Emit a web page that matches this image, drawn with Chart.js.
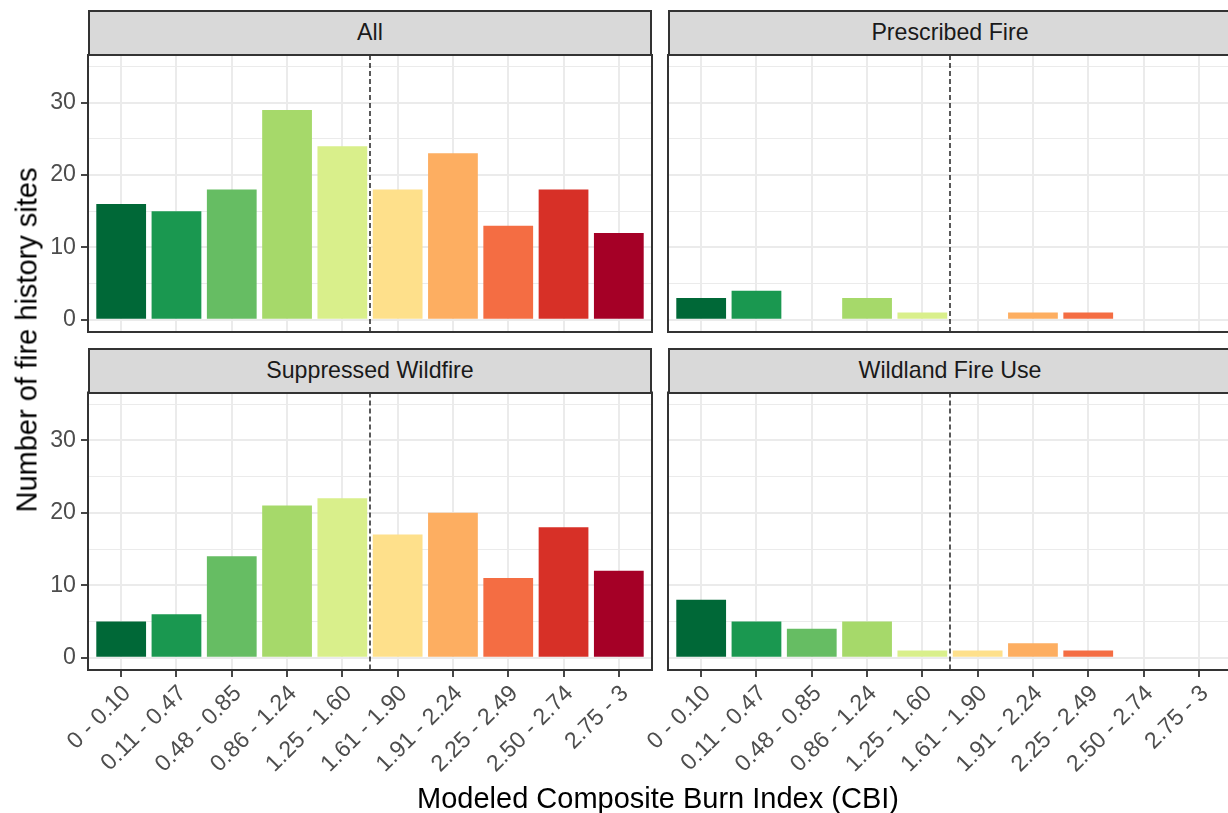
<!DOCTYPE html>
<html>
<head>
<meta charset="utf-8">
<script src="https://cdn.jsdelivr.net/npm/chart.js@4.4.1/dist/chart.umd.min.js"></script>
<style>
  html, body { margin: 0; padding: 0; background: #ffffff; overflow: hidden; width: 1228px; height: 813px; }
  #wrap { position: relative; width: 1228px; height: 813px; overflow: hidden;
          font-family: "Liberation Sans", Arial, Helvetica, sans-serif; }
  #wrap canvas { position: absolute; left: 0; top: 0; }
  .strip { position: absolute; box-sizing: border-box; background: #D9D9D9; border: 2px solid #333333;
           color: #1A1A1A; font-size: 23.2px; display: flex; align-items: center; justify-content: center; }
  .axis-title { position: absolute; color: #000000; font-size: 29px; white-space: nowrap; }
</style>
</head>
<body>
<div id="wrap"></div>
<script>
// CBI classes (x categories)
const categories = ['0 - 0.10', '0.11 - 0.47', '0.48 - 0.85', '0.86 - 1.24', '1.25 - 1.60',
                    '1.61 - 1.90', '1.91 - 2.24', '2.25 - 2.49', '2.50 - 2.74', '2.75 - 3'];

// Number of fire history sites per CBI class, by fire management type
const allSites           = [16, 15, 18, 29, 24, 18, 23, 13, 18, 12];
const prescribedFire     = [ 3,  4,  0,  3,  1,  0,  1,  1,  0,  0];
const suppressedWildfire = [ 5,  6, 14, 21, 22, 17, 20, 11, 18, 12];
const wildlandFireUse    = [ 8,  5,  4,  5,  1,  1,  2,  1,  0,  0];

const panelTitles = ['All', 'Prescribed Fire', 'Suppressed Wildfire', 'Wildland Fire Use'];

// RdYlGn, green (low severity) to red (high severity)
const barColors = ['#006837', '#1A9850', '#66BD63', '#A6D96A', '#D9EF8B',
                   '#FEE08B', '#FDAE61', '#F46D43', '#D73027', '#A50026'];

const yTickValues  = [0, 10, 20, 30];
const yMinorValues = [5, 15, 25, 35];
const yRange = [-1.7, 36.6];

// boundary between the 1.25 - 1.60 and 1.61 - 1.90 classes
const severityBreak = 4.5;

const axisTitleX = 'Modeled Composite Burn Index (CBI)';
const axisTitleY = 'Number of fire history sites';

// ---- layout of the 2 x 2 facet grid ----
const W = 1240, H = 813;
const FONT = '"Liberation Sans", Arial, Helvetica, sans-serif';
const TICK_SIZE = 23.2;
const COLS = [{ l: 88, r: 652 }, { l: 668, r: 1232 }];
const ROWS = [{ s: 9.5, t: 55, b: 332 }, { s: 348, t: 392.5, b: 670 }];
const Y_AXIS_W = 40;

const seriesList = [allSites, prescribedFire, suppressedWildfire, wildlandFireUse];
const wrap = document.getElementById('wrap');

const panelDecor = {
  id: 'panelDecor',
  afterDatasetsDraw(chart) {
    const { ctx, chartArea: a, scales } = chart;
    const x = scales.x.getPixelForValue(severityBreak);
    ctx.save();
    ctx.beginPath();
    ctx.rect(a.left, a.top, a.right - a.left, a.bottom - a.top);
    ctx.clip();
    ctx.strokeStyle = '#000000';
    ctx.lineWidth = 1.3;
    ctx.setLineDash([5, 3]);
    ctx.beginPath();
    ctx.moveTo(x, a.top);
    ctx.lineTo(x, a.bottom);
    ctx.stroke();
    ctx.restore();

    ctx.save();
    ctx.strokeStyle = '#333333';
    ctx.lineWidth = 2;
    ctx.strokeRect(a.left, a.top, a.right - a.left, a.bottom - a.top);
    ctx.restore();
  }
};

seriesList.forEach((values, p) => {
  const col = COLS[p % 2], row = ROWS[Math.floor(p / 2)];
  const showY = (p % 2) === 0;
  const showX = Math.floor(p / 2) === 1;

  // strip label
  const strip = document.createElement('div');
  strip.className = 'strip';
  strip.style.left = col.l + 'px';
  strip.style.top = row.s + 'px';
  strip.style.width = (col.r - col.l) + 'px';
  strip.style.height = (row.t - row.s + 1) + 'px';
  strip.textContent = panelTitles[p];

  const canvas = document.createElement('canvas');
  canvas.width = W; canvas.height = H;
  canvas.style.width = W + 'px'; canvas.style.height = H + 'px';
  wrap.appendChild(canvas);
  wrap.appendChild(strip);

  new Chart(canvas.getContext('2d'), {
    type: 'bar',
    data: {
      datasets: [{
        data: values.map((v, i) => ({ x: i, y: v })),
        backgroundColor: barColors,
        borderWidth: 0,
        barPercentage: 0.9,
        categoryPercentage: 1.0
      }]
    },
    options: {
      responsive: false,
      animation: false,
      events: [],
      layout: {
        autoPadding: false,
        padding: {
          left: showY ? col.l - Y_AXIS_W : col.l,
          right: W - col.r,
          top: row.t,
          bottom: showX ? 0 : H - row.b
        }
      },
      plugins: { legend: { display: false }, tooltip: { enabled: false } },
      scales: {
        x: {
          type: 'linear',
          offset: false,
          min: -0.6,
          max: categories.length - 0.4,
          afterBuildTicks: s => { s.ticks = categories.map((_, i) => ({ value: i })); },
          afterFit: s => {
            s.height = showX ? H - row.b : 0;
            s.paddingLeft = 0; s.paddingRight = 0; s.paddingTop = 0; s.paddingBottom = 0;
          },
          border: { display: false },
          grid: {
            offset: false,
            color: '#EBEBEB', lineWidth: 2,
            drawTicks: showX, tickLength: 7, tickColor: '#333333', tickWidth: 1.8
          },
          ticks: {
            display: showX, autoSkip: false, minRotation: 45, maxRotation: 45, padding: 3,
            labelOffset: 6,
            color: '#4D4D4D', font: { family: FONT, size: TICK_SIZE },
            callback: v => categories[v]
          }
        },
        y: {
          type: 'linear',
          min: yRange[0],
          max: yRange[1],
          afterBuildTicks: s => {
            s.ticks = yTickValues.concat(yMinorValues).sort((a, b) => a - b).map(v => ({ value: v }));
          },
          afterFit: s => {
            s.width = showY ? Y_AXIS_W : 0;
            s.paddingLeft = 0; s.paddingRight = 0; s.paddingTop = 0; s.paddingBottom = 0;
          },
          border: { display: false },
          grid: {
            color: '#EBEBEB',
            lineWidth: c => (c.tick && yTickValues.includes(c.tick.value)) ? 2 : 1,
            drawTicks: showY, tickLength: 7, tickWidth: 1.8,
            tickColor: c => (c.tick && yTickValues.includes(c.tick.value)) ? '#333333' : 'rgba(0,0,0,0)'
          },
          ticks: {
            display: showY, autoSkip: false, padding: 5,
            color: '#4D4D4D', font: { family: FONT, size: TICK_SIZE },
            callback: v => yTickValues.includes(v) ? String(v) : ''
          }
        }
      }
    },
    plugins: [panelDecor]
  });
});

// shared axis titles
const xt = document.createElement('div');
xt.className = 'axis-title';
xt.textContent = axisTitleX;
xt.style.left = ((COLS[0].l + COLS[1].r) / 2 - 2) + 'px';
xt.style.top = '798px';
xt.style.transform = 'translate(-50%, -50%)';
wrap.appendChild(xt);

const yt = document.createElement('div');
yt.className = 'axis-title';
yt.textContent = axisTitleY;
yt.style.left = '27px';
yt.style.top = ((ROWS[0].s + ROWS[1].b) / 2) + 'px';
yt.style.transform = 'translate(-50%, -50%) rotate(-90deg)';
wrap.appendChild(yt);
</script>
</body>
</html>
